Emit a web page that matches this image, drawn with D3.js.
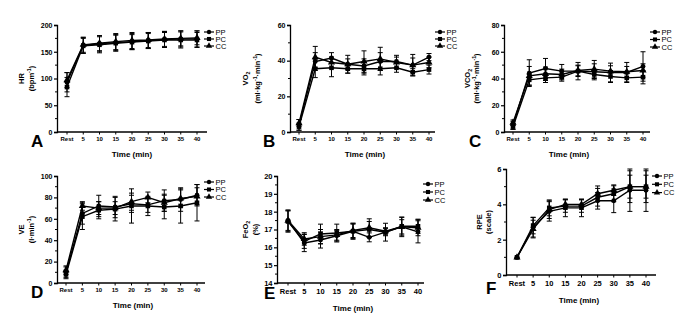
<!DOCTYPE html>
<html>
<head>
<meta charset="utf-8">
<script src="https://cdn.jsdelivr.net/npm/d3@7/dist/d3.min.js"></script>
<style>
body { margin: 0; background: #fff; }
text { font-family: "Liberation Sans", Arial, sans-serif; fill: #000; }
</style>
</head>
<body>
<svg id="fig" width="699" height="330"></svg>
<script>
// time points and groups
var categories = ["Rest", "5", "10", "15", "20", "25", "30", "35", "40"];
var groups = ["PP", "PC", "CC"];

// A - heart rate
var hrPP = [93, 162, 165, 167, 169, 171, 173, 174, 174];
var hrPC = [84, 161, 163, 166, 168, 170, 172, 172, 172];
var hrCC = [97, 163, 166, 169, 171, 172, 174, 175, 176];
var hrSdPP = [18, 15, 15, 15, 15, 15, 15, 15, 15];
var hrSdPC = [18, 14, 15, 15, 14, 14, 14, 15, 14];
var hrSdCC = [14, 14, 14, 15, 15, 14, 14, 14, 13];

// B - VO2
var vo2PP = [4, 39.5, 41.5, 38, 37, 39.5, 39.5, 37.5, 42];
var vo2PC = [3, 35.5, 36, 35.5, 35.5, 35.5, 36, 33.5, 35];
var vo2CC = [5, 42, 39, 38, 39.5, 41, 39, 37.5, 39];
var vo2SdPP = [3, 5, 3, 3, 4, 5, 3.5, 4, 2];
var vo2SdPC = [2, 5, 5, 2.5, 3.5, 3.5, 2.5, 2, 2.5];
var vo2SdCC = [2, 6, 3, 5, 6, 6.5, 3, 6, 3];

// C - VCO2
var vco2PP = [5, 44, 47.5, 45.5, 45.5, 45, 44.5, 44.5, 49];
var vco2PC = [4, 39, 40.5, 41, 45.5, 43, 41.5, 40.5, 41];
var vco2CC = [7, 42, 43.5, 43, 46, 47, 45.5, 45, 46];
var vco2SdPP = [3, 10, 7.5, 5, 6.5, 6, 7, 7.5, 11];
var vco2SdPC = [2, 4, 3.5, 3, 4, 3, 4.5, 3, 5];
var vco2SdCC = [2, 7, 5, 4, 4, 6.5, 4, 4, 5];

// D - VE
var vePP = [10, 65, 72, 71, 74, 73, 77, 78, 82];
var vePC = [8, 62, 68, 69, 72, 72, 71, 72, 75];
var veCC = [12, 72, 70, 70, 76, 80, 75, 79, 81];
var veSdPP = [5, 10, 10, 10, 8, 7, 10, 11, 10];
var veSdPC = [4, 12, 8, 11, 16, 9, 11, 16, 17];
var veSdCC = [4, 4, 6, 6, 8, 5, 8, 8, 8];

// E - FeO2
var feoPP = [17.5, 16.24, 16.41, 16.65, 16.9, 16.56, 16.85, 17.15, 16.87];
var feoPC = [17.45, 16.34, 16.75, 16.8, 16.9, 17.0, 16.85, 17.18, 17.18];
var feoCC = [17.5, 16.47, 16.6, 16.7, 16.95, 17.1, 16.9, 17.15, 17.1];
var feoSdPP = [0.6, 0.48, 0.45, 0.3, 0.45, 0.25, 0.5, 0.4, 0.62];
var feoSdPC = [0.6, 0.4, 0.55, 0.5, 0.4, 0.45, 0.2, 0.5, 0.4];
var feoSdCC = [0.55, 0.35, 0.4, 0.3, 0.4, 0.5, 0.2, 0.55, 0.45];

// F - RPE
var rpePP = [1, 2.7, 3.6, 3.8, 3.8, 4.2, 4.2, 4.8, 4.8];
var rpePC = [1, 2.8, 3.8, 3.9, 3.9, 4.4, 4.6, 5.0, 5.0];
var rpeCC = [1, 2.6, 3.7, 4.0, 4.0, 4.6, 4.8, 5.0, 5.0];
var rpeSdPP = [0, 0.55, 0.55, 0.5, 0.5, 0.47, 0.67, 1.2, 1.2];
var rpeSdPC = [0, 0.47, 0.45, 0.35, 0.35, 0.5, 0.45, 0.65, 0.65];
var rpeSdCC = [0, 0.5, 0.5, 0.28, 0.28, 0.44, 0.3, 0.9, 0.9];

var symbols = { "PP": d3.symbolCircle, "PC": d3.symbolSquare, "CC": d3.symbolTriangle };
var symSize = { "PP": 19, "PC": 21, "CC": 22 };

var panels = [
  { letter: "A", label: [["HR"], ["(bpm", ["-1", "sup"], ")"]], domain: [0, 200], ticks: [0, 50, 100, 150, 200], minor: 25,
    means: [hrPP, hrPC, hrCC], sds: [hrSdPP, hrSdPC, hrSdCC],
    ax: 57, top: 25, bottom: 132, x0: 67, x1: 197, xEnd: 207, xf: 6, yf: 7, xlab: 9,
    legX: 209, legY: 32, legDy: 7, letX: 31, letY: 147, titleX: 132, titleY: 157, labX: [24, 34] },
  { letter: "B", label: [["VO", ["2", "sub"]], ["(ml·kg", ["-1", "sup"], "·min", ["-1", "sup"], ")"]], domain: [0, 60], ticks: [0, 20, 40, 60], minor: 10,
    means: [vo2PP, vo2PC, vo2CC], sds: [vo2SdPP, vo2SdPC, vo2SdCC],
    ax: 290, top: 25, bottom: 132, x0: 299, x1: 429, xEnd: 435, xf: 6, yf: 7, xlab: 9,
    legX: 440, legY: 32, legDy: 7, letX: 263, letY: 147, titleX: 365, titleY: 157, labX: [248, 260] },
  { letter: "C", label: [["VCO", ["2", "sub"]], ["(ml·kg", ["-1", "sup"], "·min", ["-1", "sup"], ")"]], domain: [0, 80], ticks: [0, 20, 40, 60, 80], minor: 10,
    means: [vco2PP, vco2PC, vco2CC], sds: [vco2SdPP, vco2SdPC, vco2SdCC],
    ax: 504, top: 25, bottom: 132, x0: 513, x1: 643, xEnd: 650, xf: 6, yf: 7, xlab: 9,
    legX: 655, legY: 32, legDy: 7.5, letX: 469, letY: 147, titleX: 569, titleY: 157, labX: [470, 479] },
  { letter: "D", label: [["VE"], ["(l·min", ["-1", "sup"], ")"]], domain: [0, 100], ticks: [0, 20, 40, 60, 80, 100], minor: 10,
    means: [vePP, vePC, veCC], sds: [veSdPP, veSdPC, veSdCC],
    ax: 57, top: 176, bottom: 283, x0: 66, x1: 197, xEnd: 205, xf: 6, yf: 7, xlab: 9,
    legX: 209, legY: 182, legDy: 7.5, letX: 31, letY: 298, titleX: 133, titleY: 308, labX: [24, 34] },
  { letter: "E", label: [["FeO", ["2", "sub"]], ["(%)"]], domain: [14, 20], ticks: [14, 15, 16, 17, 18, 19, 20], minor: 0.5,
    means: [feoPP, feoPC, feoCC], sds: [feoSdPP, feoSdPC, feoSdCC],
    ax: 277, top: 176, bottom: 283, x0: 288, x1: 418, xEnd: 424, xf: 7.5, yf: 7.5, xlab: 11,
    legX: 428, legY: 184, legDy: 8, letX: 264, letY: 299, titleX: 353, titleY: 311, labX: [248, 258] },
  { letter: "F", label: [["RPE"], ["(scale)"]], domain: [0, 6], ticks: [0, 2, 4, 6], minor: 1,
    means: [rpePP, rpePC, rpeCC], sds: [rpeSdPP, rpeSdPC, rpeSdCC],
    ax: 506, top: 169, bottom: 275, x0: 517, x1: 646, xEnd: 656, xf: 7.5, yf: 7.5, xlab: 11,
    legX: 657, legY: 176, legDy: 8.3, letX: 486, letY: 294, titleX: 579, titleY: 303, labX: [482, 491] }
];

var svg = d3.select("#fig");

// label line with sub/superscripts; the shift is undone on the next plain part
function addLabelLine(text, parts, size) {
  var back = 0;
  parts.forEach(function (p) {
    if (typeof p === "string") {
      text.append("tspan").attr("font-size", size).attr("dy", back).text(p);
      back = 0;
    } else {
      var shift = p[1] === "sup" ? -size * 0.4 : size * 0.3;
      text.append("tspan").attr("font-size", size * 0.7).attr("dy", shift + back).text(p[0]);
      back = -shift;
    }
  });
}

function drawPanel(p) {
  var g = svg.append("g").attr("class", "panel");
  var x = d3.scalePoint().domain(categories).range([p.x0, p.x1]);
  var y = d3.scaleLinear().domain(p.domain).range([p.bottom, p.top]);

  // y axis with minor ticks
  var yAxis = g.append("g").attr("transform", "translate(" + p.ax + ",0)")
    .call(d3.axisLeft(y).tickValues(p.ticks).tickSize(3).tickPadding(1.5).tickFormat(d3.format("d")));
  yAxis.select(".domain").attr("stroke-width", 1.3);
  yAxis.selectAll(".tick line").attr("stroke-width", 1.2);
  yAxis.selectAll("text").attr("font-size", p.yf).attr("font-weight", "bold")
    .attr("font-family", "Liberation Sans, Arial, sans-serif");
  var minorVals = d3.range(p.domain[0], p.domain[1] + 1e-9, p.minor).filter(function (v) {
    return p.ticks.indexOf(+v.toFixed(4)) === -1;
  });
  g.selectAll(".minor").data(minorVals).enter().append("line")
    .attr("x1", p.ax - 2).attr("x2", p.ax)
    .attr("y1", function (d) { return y(d); }).attr("y2", function (d) { return y(d); })
    .attr("stroke", "#000").attr("stroke-width", 1);

  // x axis
  g.append("line").attr("x1", p.ax).attr("x2", p.xEnd).attr("y1", p.bottom).attr("y2", p.bottom)
    .attr("stroke", "#000").attr("stroke-width", 1.3);
  g.selectAll(".xtick").data(categories).enter().append("line")
    .attr("x1", function (d) { return x(d); }).attr("x2", function (d) { return x(d); })
    .attr("y1", p.bottom).attr("y2", p.bottom + 2.5)
    .attr("stroke", "#000").attr("stroke-width", 1);
  g.selectAll(".xlab").data(categories).enter().append("text")
    .attr("x", function (d) { return x(d); }).attr("y", p.bottom + p.xlab)
    .attr("text-anchor", "middle").attr("font-size", p.xf).attr("font-weight", "bold")
    .text(function (d) { return d; });

  g.append("text").attr("x", p.titleX).attr("y", p.titleY).attr("text-anchor", "middle")
    .attr("font-size", 8).attr("font-weight", "bold").text("Time (min)");

  // y label, two rotated lines
  var midY = (p.top + p.bottom) / 2;
  p.label.forEach(function (parts, i) {
    var t = g.append("text").attr("transform", "translate(" + p.labX[i] + "," + midY + ") rotate(-90)")
      .attr("text-anchor", "middle").attr("font-weight", "bold").attr("font-size", 7.5);
    addLabelLine(t, parts, 7.5);
  });

  g.append("text").attr("x", p.letX).attr("y", p.letY).attr("font-size", 17).attr("font-weight", "bold")
    .text(p.letter);

  // series: lines, error bars, markers
  var line = d3.line().x(function (d) { return x(d.cat); }).y(function (d) { return y(d.v); });
  var series = groups.map(function (name, i) {
    return { name: name, pts: categories.map(function (c, j) {
      return { cat: c, v: p.means[i][j], sd: p.sds[i][j] };
    }) };
  });
  series.slice().reverse().forEach(function (s) {
    g.append("path").datum(s.pts).attr("d", line).attr("fill", "none")
      .attr("stroke", "#000").attr("stroke-width", 1.4);
  });
  series.forEach(function (s) {
    var eb = g.append("g");
    s.pts.forEach(function (d) {
      if (!d.sd) return;
      var cx = x(d.cat), yl = y(d.v - d.sd), yh = y(d.v + d.sd);
      eb.append("line").attr("x1", cx).attr("x2", cx).attr("y1", yl).attr("y2", yh)
        .attr("stroke", "#000").attr("stroke-width", 1);
      [yl, yh].forEach(function (yy) {
        eb.append("line").attr("x1", cx - 2.5).attr("x2", cx + 2.5).attr("y1", yy).attr("y2", yy)
          .attr("stroke", "#000").attr("stroke-width", 1);
      });
    });
    g.selectAll(null).data(s.pts).enter().append("path")
      .attr("transform", function (d) { return "translate(" + x(d.cat) + "," + y(d.v) + ")"; })
      .attr("d", d3.symbol().type(symbols[s.name]).size(symSize[s.name]))
      .attr("fill", "#000");
  });

  // legend
  groups.forEach(function (name, i) {
    var ly = p.legY + i * p.legDy;
    g.append("line").attr("x1", p.legX - 5).attr("x2", p.legX + 5).attr("y1", ly).attr("y2", ly)
      .attr("stroke", "#000").attr("stroke-width", 1.2);
    g.append("path").attr("transform", "translate(" + p.legX + "," + ly + ")")
      .attr("d", d3.symbol().type(symbols[name]).size(symSize[name] * 0.8)).attr("fill", "#000");
    g.append("text").attr("x", p.legX + 6.5).attr("y", ly + 2.6).attr("font-size", 7.5).text(name);
  });
}

panels.forEach(drawPanel);
</script>
</body>
</html>
